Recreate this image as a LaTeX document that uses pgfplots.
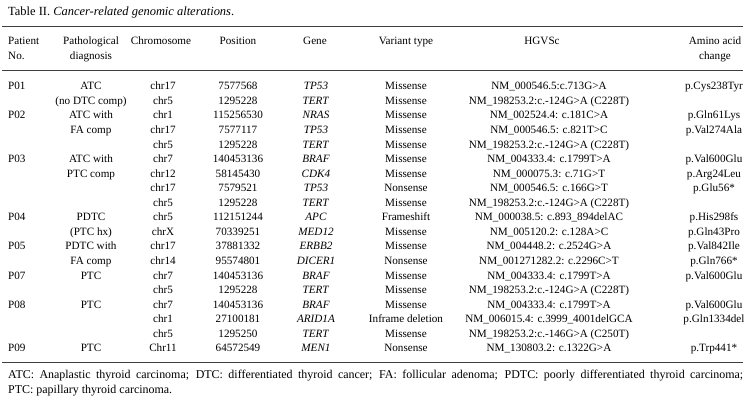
\documentclass[border=0pt]{standalone}
\usepackage{pgfplots}
\pgfplotsset{compat=1.18}
\usepackage{fontspec}
\setmainfont{Liberation Serif}
\newcommand{\R}[9]{%
  \node[anchor=west] at (axis cs:8,#1) {#2};
  \node at (axis cs:91,#1) {#3};
  \node at (axis cs:163,#1) {#4};
  \node at (axis cs:238,#1) {#5};
  \node at (axis cs:316,#1) {\textit{#6}};
  \node at (axis cs:406,#1) {#7};
  \node at (axis cs:549,#1) {#8};
  \node at (axis cs:714,#1) {#9};
}
\begin{document}
\fontsize{11.2}{14}\selectfont
\begin{tikzpicture}[every node/.style={font=\fontsize{11.2}{14}\selectfont, inner sep=0pt, text height=7.8bp, text depth=0pt}]
\begin{axis}[
  scale only axis, width=756bp, height=417bp,
  xmin=0, xmax=756, ymin=0, ymax=417, y dir=reverse,
  hide axis, clip=false,
]
% rules
\addplot[black!75, line width=0.9bp] coordinates {(2,26.7) (743,26.7)};
\addplot[black!75, line width=0.9bp] coordinates {(2,70) (743,70)};
\addplot[black!75, line width=0.9bp] coordinates {(2,362) (743,362)};
% title
\node[anchor=west, font=\fontsize{12.5}{14}\selectfont] at (axis cs:8,11.5) {Table II. \textit{Cancer-related genomic alterations}.};
% header
\node[anchor=west] at (axis cs:8,41) {Patient};
\node[anchor=west] at (axis cs:8,55.5) {No.};
\node at (axis cs:91,41) {Pathological};
\node at (axis cs:91,55.5) {diagnosis};
\node at (axis cs:161,41) {Chromosome};
\node at (axis cs:238,41) {Position};
\node at (axis cs:315,41) {Gene};
\node at (axis cs:406,41) {Variant type};
\node at (axis cs:542,41) {HGVSc};
\node at (axis cs:715,41) {Amino acid};
\node at (axis cs:715,55.5) {change};
% body
\R{86.0}{P01}{ATC}{chr17}{7577568}{TP53}{Missense}{NM\_000546.5:c.713G>A}{p.Cys238Tyr}
\R{100.55}{}{(no DTC comp)}{chr5}{1295228}{TERT}{Missense}{NM\_198253.2:c.-124G>A (C228T)}{}
\R{115.1}{P02}{ATC with}{chr1}{115256530}{NRAS}{Missense}{NM\_002524.4: c.181C>A}{p.Gln61Lys}
\R{129.65}{}{FA comp}{chr17}{7577117}{TP53}{Missense}{NM\_000546.5: c.821T>C}{p.Val274Ala}
\R{144.2}{}{}{chr5}{1295228}{TERT}{Missense}{NM\_198253.2:c.-124G>A (C228T)}{}
\R{158.75}{P03}{ATC with}{chr7}{140453136}{BRAF}{Missense}{NM\_004333.4: c.1799T>A}{p.Val600Glu}
\R{173.3}{}{PTC comp}{chr12}{58145430}{CDK4}{Missense}{NM\_000075.3: c.71G>T}{p.Arg24Leu}
\R{187.85}{}{}{chr17}{7579521}{TP53}{Nonsense}{NM\_000546.5: c.166G>T}{p.Glu56*}
\R{202.4}{}{}{chr5}{1295228}{TERT}{Missense}{NM\_198253.2:c.-124G>A (C228T)}{}
\R{216.95}{P04}{PDTC}{chr5}{112151244}{APC}{Frameshift}{NM\_000038.5: c.893\_894delAC}{p.His298fs}
\R{231.5}{}{(PTC hx)}{chrX}{70339251}{MED12}{Missense}{NM\_005120.2: c.128A>C}{p.Gln43Pro}
\R{246.05}{P05}{PDTC with}{chr17}{37881332}{ERBB2}{Missense}{NM\_004448.2: c.2524G>A}{p.Val842Ile}
\R{260.6}{}{FA comp}{chr14}{95574801}{DICER1}{Nonsense}{NM\_001271282.2: c.2296C>T}{p.Gln766*}
\R{275.15}{P07}{PTC}{chr7}{140453136}{BRAF}{Missense}{NM\_004333.4: c.1799T>A}{p.Val600Glu}
\R{289.7}{}{}{chr5}{1295228}{TERT}{Missense}{NM\_198253.2:c.-124G>A (C228T)}{}
\R{304.25}{P08}{PTC}{chr7}{140453136}{BRAF}{Missense}{NM\_004333.4: c.1799T>A}{p.Val600Glu}
\R{318.8}{}{}{chr1}{27100181}{ARID1A}{Inframe deletion}{NM\_006015.4: c.3999\_4001delGCA}{p.Gln1334del}
\R{333.35}{}{}{chr5}{1295250}{TERT}{Missense}{NM\_198253.2:c.-146G>A (C250T)}{}
\R{347.9}{P09}{PTC}{Chr11}{64572549}{MEN1}{Nonsense}{NM\_130803.2: c.1322G>A}{p.Trp441*}
% footnote
\node[anchor=north west, text width=735bp, align=justify, text height=, text depth=, font=\fontsize{12}{15.5}\selectfont] at (axis cs:8,369.5) {ATC: Anaplastic thyroid carcinoma; DTC: differentiated thyroid cancer; FA: follicular adenoma; PDTC: poorly differentiated thyroid carcinoma;\linebreak PTC: papillary thyroid carcinoma.};
\end{axis}
\path (current axis.south west) rectangle (current axis.north east);
\end{tikzpicture}
\end{document}
